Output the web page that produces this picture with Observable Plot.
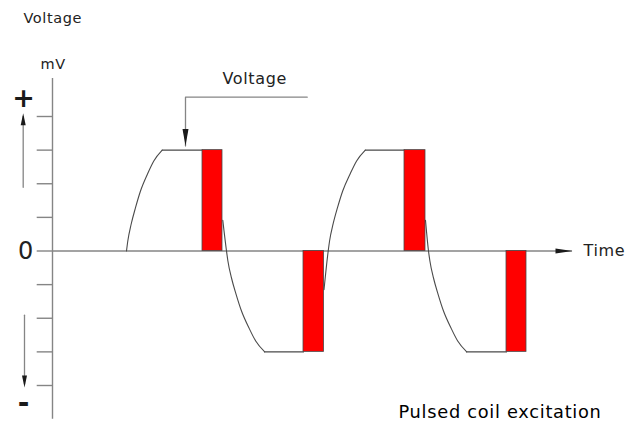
<!DOCTYPE html>
<html>
<head>
<meta charset="utf-8">
<script src="https://cdn.jsdelivr.net/npm/d3@7"></script>
<script src="https://cdn.jsdelivr.net/npm/@observablehq/plot@0.6"></script>
<style>
  html, body { margin: 0; padding: 0; background: #fff; }
  svg text { letter-spacing: 0.04em; }
</style>
</head>
<body>
<div id="chart"></div>
<script>
// ---- data (time units, voltage units) ----
const yTicks = [-4, -3, -2, -1, 0, 1, 2, 3, 4];

// coil voltage waveform, split into pieces
const curveSeg = [0, 0, 0, 0, 0, 0, 0, 0,
                  1, 1,
                  2, 2, 2, 2, 2, 2, 2, 2, 2,
                  3, 3,
                  4, 4, 4, 4, 4, 4, 4, 4, 4,
                  5, 5,
                  6, 6, 6, 6, 6, 6, 6, 6, 6,
                  7, 7];
const curveT = [3.7, 3.765, 3.935, 4.15, 4.4, 4.75, 5.065, 5.485,
                5.485, 7.5,
                8.515, 8.7, 8.77, 8.95, 9.18, 9.45, 9.825, 10.16, 10.61,
                10.61, 12.55,
                13.575, 13.785, 13.853, 14.03, 14.25, 14.51, 14.88, 15.205, 15.64,
                15.64, 17.6,
                18.65, 18.8, 18.87, 19.05, 19.28, 19.55, 19.925, 20.26, 20.71,
                20.71, 22.7];
const curveV = [0, 0.297, 0.803, 1.288, 1.784, 2.29, 2.677, 3,
                3, 3,
                0.91, 0, -0.297, -0.803, -1.288, -1.784, -2.29, -2.677, -3,
                -3, -3,
                -1.15, 0, 0.297, 0.803, 1.288, 1.784, 2.29, 2.677, 3,
                3, 3,
                0.91, 0, -0.297, -0.803, -1.288, -1.784, -2.29, -2.677, -3,
                -3, -3];

// excitation pulses
const pulseStart = [7.5, 12.55, 17.6, 22.7];
const pulseEnd   = [8.5, 13.575, 18.65, 23.7];
const pulseV     = [3, -3, 3, -3];

// labels
const titleLabel = "Voltage";
const unitLabel = "mV";
const zeroLabel = "0";
const plusLabel = "+";
const minusLabel = "-";
const timeLabel = "Time";
const annotLabel = "Voltage";
const captionLabel = "Pulsed coil excitation";

// ---- derived tables ----
const curve = curveT.map((t, i) => ({t, v: curveV[i], seg: curveSeg[i]}));
const pulses = pulseStart.map((s, i) => ({s, e: pulseEnd[i], v: pulseV[i]}));
const leader = [{t: 12.735, v: 4.574}, {t: 6.65, v: 4.574}, {t: 6.65, v: 3.12}];

// custom filled arrowheads (tip at the point)
function head(dir, len, wid) {
  return {
    draw(ctx) {
      const h = wid / 2;
      if (dir === "right") { ctx.moveTo(0, 0); ctx.lineTo(-len, -h); ctx.lineTo(-len, h); }
      if (dir === "up")    { ctx.moveTo(0, 0); ctx.lineTo(-h, len); ctx.lineTo(h, len); }
      if (dir === "down")  { ctx.moveTo(0, 0); ctx.lineTo(-h, -len); ctx.lineTo(h, -len); }
      ctx.closePath();
    }
  };
}

const gray = "#858585";
const ink = "#1a1a1a";

const chart = Plot.plot({
  width: 640,
  height: 423,
  margin: 0,
  x: {domain: [0, 26], range: [52, 572], axis: null},
  y: {domain: [-4, 4], range: [385, 116], axis: null},
  style: {fontFamily: "DejaVu Sans", background: "#fff", overflow: "visible"},
  marks: [
    // axes
    Plot.ruleY([0], {x1: 0, x2: 26, stroke: gray, strokeWidth: 1.4}),
    Plot.ruleX([0], {y1: -5.0, y2: 5.13, stroke: gray, strokeWidth: 1.4}),
    Plot.ruleY(yTicks, {x1: -0.765, x2: 0, stroke: gray, strokeWidth: 1.4}),
    // waveform
    Plot.line(curve, {x: "t", y: "v", z: "seg", stroke: "#4a4a4a", strokeWidth: 1.1, curve: "monotone-x"}),
    // pulses
    Plot.rect(pulses, {x1: "s", x2: "e", y1: 0, y2: "v", fill: "#ff0000", stroke: "#4a4a4a", strokeWidth: 0.8}),
    // direction arrows at left
    Plot.line([{t: -1.465, v: 1.896}, {t: -1.465, v: 4.0}], {x: "t", y: "v", stroke: gray, strokeWidth: 1.3}),
    Plot.dot([{t: -1.465, v: 4.1}], {x: "t", y: "v", symbol: head("up", 12, 5), fill: ink, stroke: "none"}),
    Plot.line([{t: -1.4, v: -1.91}, {t: -1.4, v: -3.95}], {x: "t", y: "v", stroke: gray, strokeWidth: 1.3}),
    Plot.dot([{t: -1.4, v: -4.06}], {x: "t", y: "v", symbol: head("down", 12, 5), fill: ink, stroke: "none"}),
    // time arrowhead
    Plot.dot([{t: 26, v: 0}], {x: "t", y: "v", symbol: head("right", 17, 5), fill: ink, stroke: "none"}),
    // annotation leader
    Plot.line(leader, {x: "t", y: "v", stroke: gray, strokeWidth: 1.3}),
    Plot.dot([leader[2]], {x: "t", y: "v", symbol: head("down", 17, 6), fill: ink, stroke: "none"}),
    // texts
    Plot.text([titleLabel], {x: -1.45, y: 6.775, text: d => d, textAnchor: "start", lineAnchor: "bottom", fontSize: 14.5, fill: "#222"}),
    Plot.text([unitLabel], {x: -0.6, y: 5.42, text: d => d, textAnchor: "start", lineAnchor: "bottom", fontSize: 14.5, fill: "#222"}),
    Plot.text([annotLabel], {x: 8.5, y: 4.98, text: d => d, textAnchor: "start", lineAnchor: "bottom", fontSize: 16, fill: "#222"}),
    Plot.text([timeLabel], {x: 26.55, y: 0, text: d => d, textAnchor: "start", lineAnchor: "middle", fontSize: 16, fill: "#222"}),
    Plot.text([zeroLabel], {x: -1.325, y: 0, text: d => d, textAnchor: "middle", lineAnchor: "middle", fontSize: 24, fill: "#222"}),
    Plot.text([plusLabel], {x: -1.425, y: 4.535, text: d => d, textAnchor: "middle", lineAnchor: "middle", fontSize: 27, fontWeight: "bold", fill: ink}),
    Plot.text([minusLabel], {x: -1.425, y: -4.535, text: d => d, textAnchor: "middle", lineAnchor: "middle", fontSize: 28, fontWeight: "bold", fill: ink}),
    Plot.text([captionLabel], {x: 17.3, y: -4.97, text: d => d, textAnchor: "start", lineAnchor: "bottom", fontSize: 17.8, fill: "#000"})
  ]
});
document.getElementById("chart").appendChild(chart);
</script>
</body>
</html>
